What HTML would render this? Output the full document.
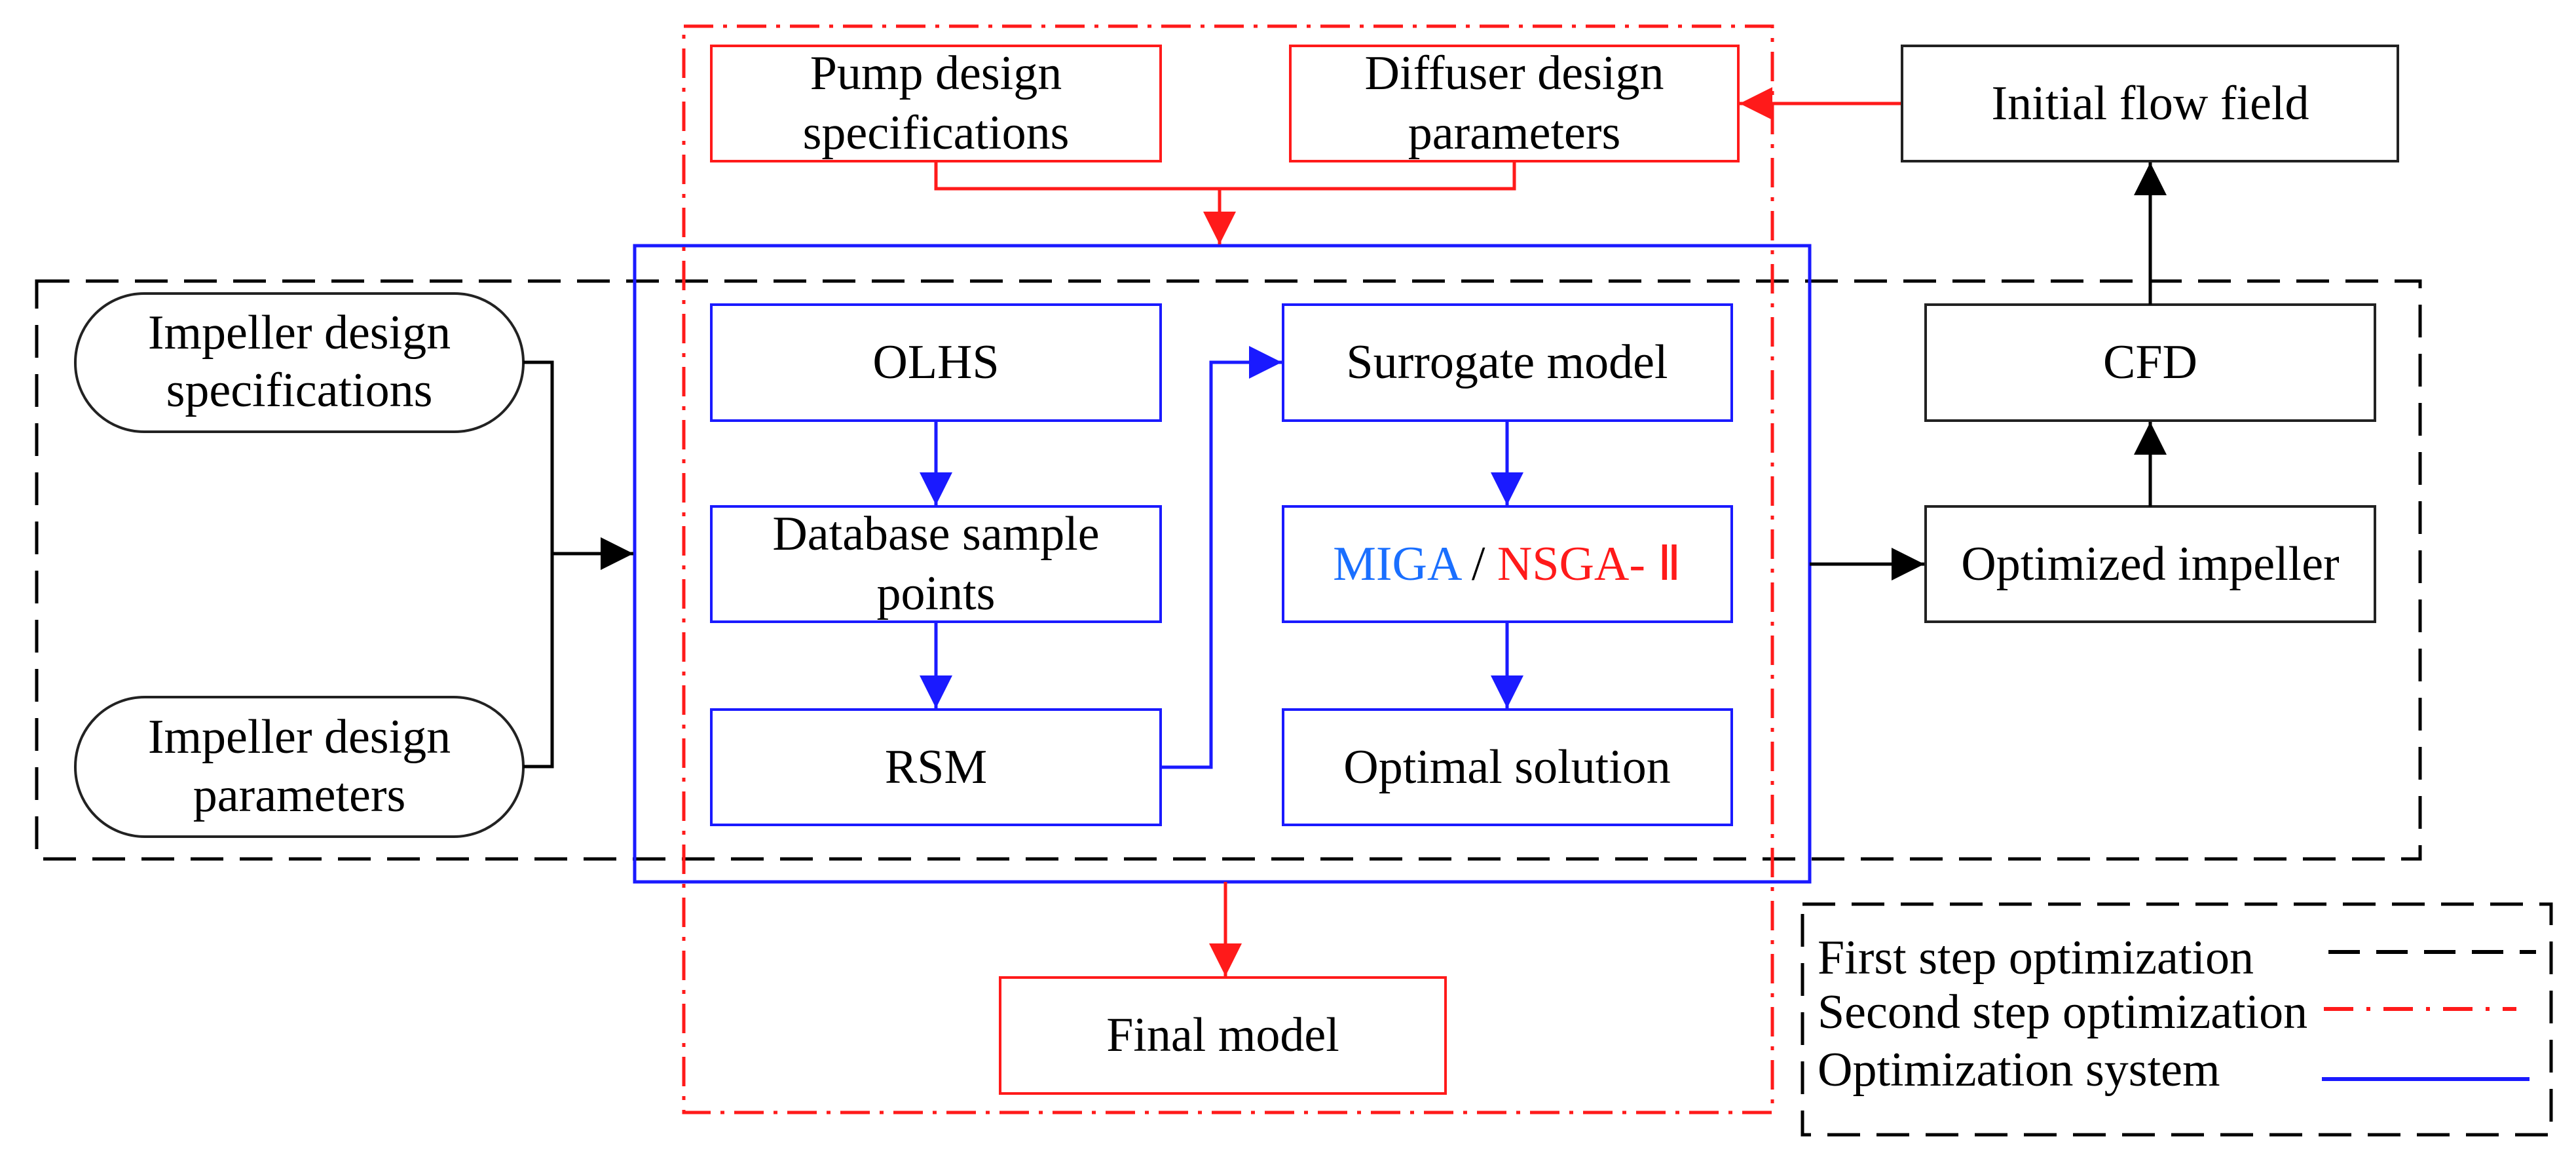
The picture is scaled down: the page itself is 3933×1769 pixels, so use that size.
<!DOCTYPE html>
<html><head><meta charset="utf-8"><style>
html,body{margin:0;padding:0;background:#fff;}
svg{display:block;}
text{font-family:"Liberation Serif",serif;font-size:74px;fill:#000;text-anchor:middle;dominant-baseline:central;}
</style></head><body>
<svg width="3933" height="1769" viewBox="0 0 3933 1769" xmlns="http://www.w3.org/2000/svg">
<defs>
<marker id="ak" markerWidth="10" markerHeight="10" refX="10" refY="5" orient="auto" viewBox="0 0 10 10"><path d="M0,0 L10,5 L0,10 z" fill="#000"/></marker>
<marker id="ab" markerWidth="10" markerHeight="10" refX="10" refY="5" orient="auto" viewBox="0 0 10 10"><path d="M0,0 L10,5 L0,10 z" fill="#1a1aff"/></marker>
<marker id="ar" markerWidth="10" markerHeight="10" refX="10" refY="5" orient="auto" viewBox="0 0 10 10"><path d="M0,0 L10,5 L0,10 z" fill="#ff1a1a"/></marker>
</defs>

<rect x="56" y="429" width="3639" height="882" fill="none" stroke="#000" stroke-width="5" stroke-dasharray="50,25"/>
<rect x="969" y="375" width="1794" height="971" fill="none" stroke="#1a1aff" stroke-width="5"/>
<rect x="1044" y="40" width="1662" height="1658" fill="none" stroke="#ff1a1a" stroke-width="5" stroke-dasharray="45,15,6,15"/>

<rect x="1086" y="70" width="686" height="176" fill="#fff" stroke="#ff1a1a" stroke-width="4"/>
<text x="1429" y="112">Pump design</text><text x="1429" y="203">specifications</text>
<rect x="1970" y="70" width="684" height="176" fill="#fff" stroke="#ff1a1a" stroke-width="4"/>
<text x="2312" y="112">Diffuser design</text><text x="2312" y="203">parameters</text>
<rect x="1527" y="1492" width="680" height="177" fill="#fff" stroke="#ff1a1a" stroke-width="4"/>
<text x="1867" y="1580">Final model</text>

<polyline points="1429,246 1429,288 2312,288 2312,246" fill="none" stroke="#ff1a1a" stroke-width="5"/>
<line x1="1862" y1="288" x2="1862" y2="373" stroke="#ff1a1a" stroke-width="5" marker-end="url(#ar)"/>
<line x1="1871" y1="1346" x2="1871" y2="1490" stroke="#ff1a1a" stroke-width="5" marker-end="url(#ar)"/>
<line x1="2904" y1="158" x2="2656" y2="158" stroke="#ff1a1a" stroke-width="5" marker-end="url(#ar)"/>

<rect x="2904" y="70" width="757" height="176" fill="#fff" stroke="#222" stroke-width="4"/>
<text x="3283" y="158">Initial flow field</text>
<rect x="2940" y="465" width="686" height="177" fill="#fff" stroke="#222" stroke-width="4"/>
<text x="3283" y="553">CFD</text>
<rect x="2940" y="773" width="686" height="176" fill="#fff" stroke="#222" stroke-width="4"/>
<text x="3283" y="861">Optimized impeller</text>
<line x1="3283" y1="773" x2="3283" y2="644" stroke="#000" stroke-width="5" marker-end="url(#ak)" />
<line x1="3283" y1="465" x2="3283" y2="248" stroke="#000" stroke-width="5" marker-end="url(#ak)"/>
<line x1="2763" y1="861" x2="2938" y2="861" stroke="#000" stroke-width="5" marker-end="url(#ak)"/>

<rect x="115" y="448" width="684" height="211" rx="105" ry="105" fill="#fff" stroke="#222" stroke-width="4"/>
<text x="457" y="508">Impeller design</text><text x="457" y="596">specifications</text>
<rect x="115" y="1064" width="684" height="213" rx="106" ry="106" fill="#fff" stroke="#222" stroke-width="4"/>
<text x="457" y="1125">Impeller design</text><text x="457" y="1214">parameters</text>
<polyline points="799,553 843,553 843,1170 799,1170" fill="none" stroke="#000" stroke-width="5"/>
<line x1="843" y1="845" x2="967" y2="845" stroke="#000" stroke-width="5" marker-end="url(#ak)"/>

<g fill="#fff" stroke="#1a1aff" stroke-width="4">
<rect x="1086" y="465" width="686" height="177"/>
<rect x="1086" y="773" width="686" height="176"/>
<rect x="1086" y="1083" width="686" height="176"/>
<rect x="1959" y="465" width="685" height="177"/>
<rect x="1959" y="773" width="685" height="176"/>
<rect x="1959" y="1083" width="685" height="176"/>
</g>
<text x="1429" y="553">OLHS</text>
<text x="1429" y="815">Database sample</text><text x="1429" y="906">points</text>
<text x="1429" y="1171">RSM</text>
<text x="2301" y="553">Surrogate model</text>
<text x="2301" y="861"><tspan fill="#1a6fff">MIGA</tspan> / <tspan fill="#ff1a1a">NSGA- Ⅱ</tspan></text>
<text x="2301" y="1171">Optimal solution</text>
<g stroke="#1a1aff" stroke-width="5" fill="none">
<line x1="1429" y1="642" x2="1429" y2="771" marker-end="url(#ab)"/>
<line x1="1429" y1="949" x2="1429" y2="1081" marker-end="url(#ab)"/>
<line x1="2301" y1="642" x2="2301" y2="771" marker-end="url(#ab)"/>
<line x1="2301" y1="949" x2="2301" y2="1081" marker-end="url(#ab)"/>
<polyline points="1772,1171 1849,1171 1849,553 1957,553" marker-end="url(#ab)"/>
</g>

<rect x="2752" y="1380" width="1143" height="352" fill="#fff" stroke="#000" stroke-width="5" stroke-dasharray="50,25"/>
<text x="2775" y="1462" style="text-anchor:start">First step optimization</text>
<text x="2775" y="1545" style="text-anchor:start">Second step optimization</text>
<text x="2775" y="1633" style="text-anchor:start">Optimization system</text>
<line x1="3555" y1="1453" x2="3872" y2="1453" stroke="#000" stroke-width="6" stroke-dasharray="48,25"/>
<line x1="3548" y1="1540" x2="3842" y2="1540" stroke="#ff1a1a" stroke-width="6" stroke-dasharray="45,20,6,20"/>
<line x1="3545" y1="1647" x2="3862" y2="1647" stroke="#1a1aff" stroke-width="6"/>
</svg>
</body></html>
